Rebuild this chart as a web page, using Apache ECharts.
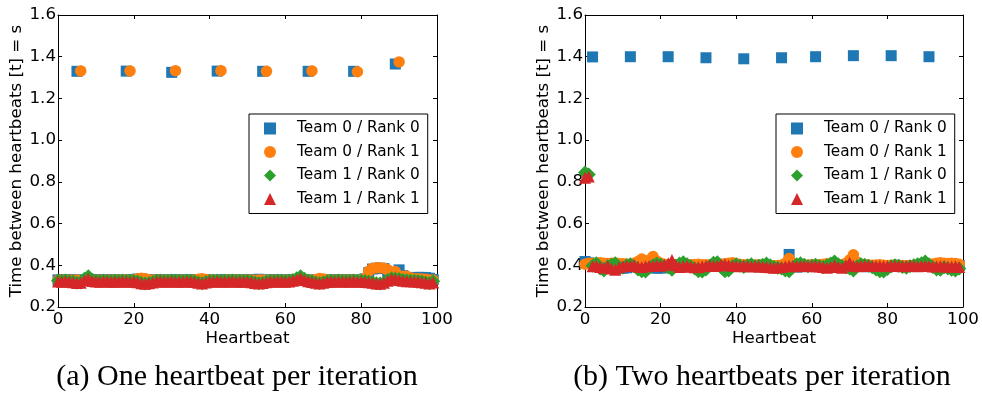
<!DOCTYPE html>
<html>
<head>
<meta charset="utf-8">
<script src="https://cdn.jsdelivr.net/npm/echarts@6/dist/echarts.min.js"></script>
<style>
html,body{margin:0;padding:0;background:#fff;}
#chart{width:982px;height:394px;}
</style>
</head>
<body>
<div id="chart"></div>
<script>
// ---------- data ----------
const seriesNames = ['Team 0 / Rank 0', 'Team 0 / Rank 1', 'Team 1 / Rank 0', 'Team 1 / Rank 1'];
const xTicks = [0, 20, 40, 60, 80, 100];
const yTicks = [0.2, 0.4, 0.6, 0.8, 1.0, 1.2, 1.4, 1.6];
const captionA = '(a) One heartbeat per iteration';
const captionB = '(b) Two heartbeats per iteration';

// (a) One heartbeat per iteration — value index = heartbeat number
const a_t0r0 = [
0.330,0.331,0.329,0.330,0.331,1.330,0.330,0.329,0.334,0.330,
0.331,0.330,0.329,0.330,0.331,0.330,0.329,0.330,1.331,0.331,
0.330,0.334,0.336,0.332,0.329,0.330,0.331,0.330,0.329,0.331,
1.325,0.330,0.331,0.330,0.329,0.331,0.330,0.329,0.330,0.331,
0.330,0.329,1.331,0.330,0.331,0.330,0.329,0.330,0.331,0.330,
0.329,0.331,0.330,0.333,1.330,0.330,0.329,0.331,0.330,0.329,
0.330,0.331,0.330,0.331,0.335,0.330,1.330,0.329,0.330,0.331,
0.330,0.329,0.330,0.331,0.330,0.329,0.330,0.331,1.330,0.330,
0.329,0.335,0.365,0.382,0.386,0.386,0.384,0.345,0.340,1.365,
0.378,0.350,0.342,0.338,0.340,0.342,0.342,0.341,0.338,0.332];
const a_t0r1 = [
0.328,0.329,0.328,0.329,0.328,0.329,1.332,0.328,0.332,0.329,
0.328,0.329,0.328,0.329,0.328,0.329,0.328,0.329,0.330,1.332,
0.330,0.336,0.338,0.336,0.330,0.329,0.328,0.329,0.328,0.329,
0.328,1.333,0.329,0.328,0.329,0.328,0.329,0.333,0.336,0.332,
0.329,0.328,0.329,1.333,0.328,0.329,0.328,0.329,0.328,0.329,
0.328,0.329,0.328,0.329,0.330,1.330,0.329,0.328,0.329,0.328,
0.329,0.328,0.329,0.330,0.334,0.330,0.329,1.332,0.332,0.337,
0.334,0.329,0.328,0.329,0.328,0.329,0.328,0.329,0.330,1.328,
0.330,0.338,0.372,0.385,0.388,0.388,0.386,0.378,0.350,0.370,
1.375,0.348,0.348,0.340,0.336,0.335,0.334,0.333,0.330,0.329];
const a_t1r0 = [
0.326,0.325,0.327,0.324,0.322,0.316,0.318,0.335,0.348,0.330,
0.326,0.325,0.327,0.326,0.324,0.326,0.325,0.327,0.325,0.326,
0.325,0.322,0.316,0.313,0.315,0.320,0.326,0.327,0.325,0.326,
0.327,0.325,0.326,0.325,0.327,0.326,0.324,0.318,0.314,0.320,
0.325,0.326,0.327,0.325,0.326,0.325,0.327,0.326,0.325,0.326,
0.325,0.322,0.317,0.314,0.316,0.322,0.326,0.325,0.327,0.326,
0.325,0.326,0.330,0.338,0.347,0.335,0.327,0.324,0.318,0.314,
0.318,0.324,0.326,0.325,0.327,0.326,0.325,0.326,0.327,0.325,
0.326,0.325,0.322,0.318,0.314,0.313,0.318,0.330,0.338,0.336,
0.334,0.330,0.328,0.327,0.326,0.325,0.322,0.318,0.314,0.323];
const a_t1r1 = [
0.322,0.321,0.323,0.321,0.319,0.315,0.316,0.328,0.336,0.325,
0.322,0.321,0.323,0.322,0.321,0.322,0.321,0.323,0.322,0.321,
0.322,0.319,0.314,0.312,0.314,0.318,0.322,0.323,0.321,0.322,
0.323,0.321,0.322,0.321,0.323,0.322,0.320,0.316,0.313,0.318,
0.322,0.321,0.323,0.322,0.321,0.322,0.323,0.321,0.322,0.321,
0.322,0.319,0.315,0.313,0.315,0.319,0.322,0.321,0.323,0.322,
0.321,0.322,0.326,0.332,0.338,0.330,0.323,0.320,0.316,0.313,
0.316,0.320,0.322,0.321,0.323,0.322,0.321,0.322,0.323,0.321,
0.322,0.321,0.319,0.316,0.313,0.312,0.316,0.326,0.334,0.333,
0.330,0.326,0.324,0.323,0.322,0.321,0.319,0.316,0.313,0.318];

// (b) Two heartbeats per iteration
const b_t0r0 = [
0.418,0.412,1.399,0.400,0.398,0.396,0.395,0.392,0.386,0.385,
0.386,0.388,1.400,0.395,0.398,0.400,0.396,0.392,0.388,0.386,
0.387,0.388,1.400,0.394,0.396,0.398,0.397,0.396,0.395,0.394,
0.395,0.396,1.395,0.397,0.396,0.395,0.394,0.392,0.395,0.398,
0.397,0.395,1.390,0.394,0.395,0.396,0.397,0.395,0.394,0.393,
0.394,0.395,1.395,0.400,0.452,0.398,0.392,0.393,0.395,0.396,
0.395,1.400,0.396,0.395,0.394,0.396,0.397,0.395,0.394,0.396,
0.397,1.405,0.396,0.395,0.394,0.393,0.395,0.396,0.394,0.393,
0.394,1.405,0.396,0.397,0.396,0.395,0.396,0.397,0.396,0.395,
0.396,1.400,0.398,0.400,0.401,0.402,0.401,0.400,0.400,0.399];
const b_t0r1 = [
0.405,0.410,0.408,0.410,0.412,0.410,0.409,0.410,0.411,0.408,
0.407,0.406,0.405,0.410,0.418,0.430,0.415,0.425,0.442,0.420,
0.410,0.405,0.403,0.404,0.402,0.400,0.401,0.402,0.403,0.404,
0.405,0.403,0.402,0.401,0.402,0.404,0.405,0.407,0.410,0.412,
0.408,0.404,0.402,0.401,0.400,0.401,0.402,0.401,0.400,0.399,
0.398,0.399,0.400,0.410,0.432,0.410,0.402,0.401,0.400,0.401,
0.402,0.401,0.403,0.405,0.407,0.405,0.404,0.402,0.403,0.410,
0.425,0.450,0.415,0.405,0.403,0.401,0.400,0.401,0.402,0.400,
0.399,0.400,0.401,0.400,0.399,0.398,0.399,0.400,0.401,0.402,
0.403,0.404,0.406,0.410,0.412,0.410,0.409,0.410,0.408,0.405];
const b_t1r0 = [
0.845,0.835,0.398,0.410,0.385,0.375,0.395,0.402,0.410,0.392,
0.388,0.400,0.405,0.395,0.380,0.372,0.370,0.388,0.400,0.408,
0.402,0.395,0.390,0.378,0.398,0.408,0.415,0.405,0.395,0.385,
0.372,0.370,0.380,0.398,0.412,0.415,0.390,0.372,0.375,0.395,
0.405,0.398,0.392,0.400,0.405,0.395,0.398,0.402,0.408,0.400,
0.392,0.388,0.385,0.375,0.372,0.390,0.405,0.410,0.402,0.395,
0.398,0.402,0.396,0.392,0.400,0.408,0.418,0.405,0.395,0.390,
0.385,0.375,0.395,0.405,0.402,0.398,0.390,0.380,0.372,0.370,
0.382,0.395,0.400,0.398,0.392,0.388,0.395,0.400,0.405,0.410,
0.418,0.405,0.392,0.380,0.378,0.390,0.385,0.378,0.375,0.385];
const b_t1r1 = [
0.820,0.826,0.395,0.398,0.392,0.388,0.396,0.385,0.378,0.390,
0.395,0.398,0.396,0.400,0.394,0.392,0.395,0.398,0.396,0.400,
0.398,0.402,0.410,0.425,0.400,0.392,0.395,0.398,0.393,0.390,
0.392,0.395,0.398,0.400,0.396,0.398,0.402,0.405,0.400,0.398,
0.396,0.395,0.398,0.396,0.394,0.397,0.395,0.393,0.392,0.390,
0.388,0.390,0.392,0.395,0.398,0.396,0.395,0.397,0.398,0.396,
0.395,0.396,0.394,0.392,0.388,0.392,0.400,0.392,0.388,0.400,
0.412,0.398,0.395,0.397,0.399,0.398,0.396,0.397,0.398,0.396,
0.395,0.397,0.398,0.396,0.395,0.397,0.398,0.396,0.395,0.397,
0.398,0.396,0.394,0.395,0.396,0.395,0.393,0.394,0.395,0.392];

// ---------- chart ----------
const colors = ['#1f77b4', '#ff7f0e', '#2ca02c', '#d62728'];
const symbols = ['rect', 'circle', 'diamond', 'triangle'];
const symbolSizes = [11, 11.5, 14, 12];
const FONT = 'DejaVu Sans';

function pairs(arr) { return arr.map((v, i) => [i, v]); }

function xAxes(grid) {
  const base = {
    gridIndex: grid, type: 'value', min: xTicks[0], max: xTicks[xTicks.length - 1],
    interval: xTicks[1] - xTicks[0],
    splitLine: { show: false },
    axisLine: { show: true, onZero: false, lineStyle: { color: '#000', width: 1 } },
    axisTick: { show: true, inside: true, length: 4, lineStyle: { color: '#000' } }
  };
  return [
    Object.assign({}, base, {
      position: 'bottom',
      axisLabel: { show: true, color: '#000', fontFamily: FONT, fontSize: 16.7, margin: 4 },
      name: 'Heartbeat', nameLocation: 'middle', nameGap: 23, nameMoveOverlap: false,
      nameTextStyle: { color: '#000', fontFamily: FONT, fontSize: 16.7 }
    }),
    Object.assign({}, base, { position: 'top', axisLabel: { show: false } })
  ];
}
function yAxes(grid) {
  const base = {
    gridIndex: grid, type: 'value', min: yTicks[0], max: yTicks[yTicks.length - 1],
    interval: 0.2,
    splitLine: { show: false },
    axisLine: { show: true, onZero: false, lineStyle: { color: '#000', width: 1 } },
    axisTick: { show: true, inside: true, length: 4, lineStyle: { color: '#000' } }
  };
  return [
    Object.assign({}, base, {
      position: 'left',
      axisLabel: { show: true, color: '#000', fontFamily: FONT, fontSize: 16.7, margin: 2,
        formatter: v => v.toFixed(1) },
      name: 'Time between heartbeats [t] = s', nameLocation: 'middle', nameGap: 33,
      nameTextStyle: { color: '#000', fontFamily: FONT, fontSize: 16.7 }
    }),
    Object.assign({}, base, { position: 'right', axisLabel: { show: false } })
  ];
}

const panelData = [[a_t0r0, a_t0r1, a_t1r0, a_t1r1], [b_t0r0, b_t0r1, b_t1r0, b_t1r1]];
const series = [];
panelData.forEach((set, p) => {
  set.forEach((vals, k) => {
    series.push({
      type: 'scatter', name: seriesNames[k],
      xAxisIndex: p * 2, yAxisIndex: p * 2,
      symbol: symbols[k], symbolSize: symbolSizes[k],
      itemStyle: { color: colors[k], opacity: 1 },
      emphasis: { disabled: true },
      data: pairs(vals)
    });
  });
});

function legend(left) {
  return {
    left: left, top: 114, orient: 'vertical',
    backgroundColor: '#fff', borderColor: '#000', borderWidth: 1,
    padding: [7, 8, 7, 15], itemWidth: 12, itemHeight: 12, itemGap: 8.5,
    selectedMode: false,
    textStyle: { color: '#000', fontFamily: FONT, fontSize: 15.3, lineHeight: 14, padding: [0, 0, 0, 16] },
    data: seriesNames.map((n, k) => ({ name: n, icon: symbols[k], itemStyle: { color: colors[k] } }))
  };
}

const chart = echarts.init(document.getElementById('chart'), null, { renderer: 'canvas' });
chart.setOption({
  animation: false,
  backgroundColor: '#fff',
  grid: [
    { left: 58, right: 545, top: 15, bottom: 87 },
    { left: 585, right: 19, top: 15, bottom: 87 }
  ],
  xAxis: xAxes(0).concat(xAxes(1)),
  yAxis: yAxes(0).concat(yAxes(1)),
  legend: [legend(249), legend(776)],
  series: series,
  graphic: [
    { type: 'text', x: 237, y: 377, style: { text: captionA, textAlign: 'center', textVerticalAlign: 'middle',
      font: '30px "Liberation Serif"', fill: '#000' } },
    { type: 'text', x: 762, y: 377, style: { text: captionB, textAlign: 'center', textVerticalAlign: 'middle',
      font: '30px "Liberation Serif"', fill: '#000' } }
  ]
});
</script>
</body>
</html>
